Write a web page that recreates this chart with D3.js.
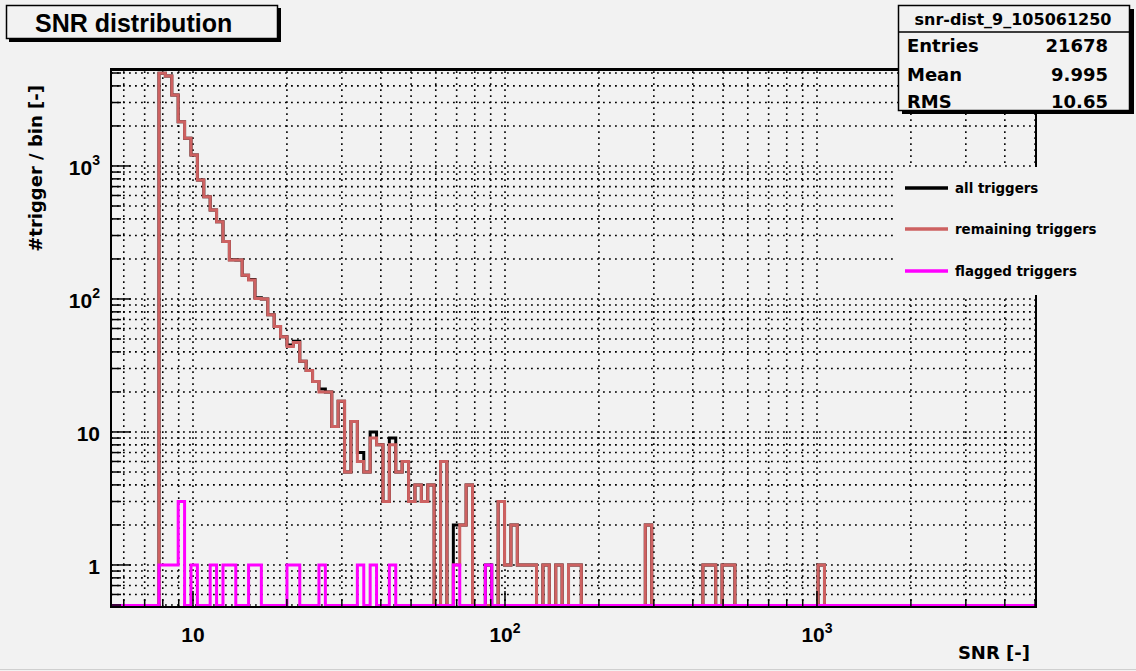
<!DOCTYPE html>
<html><head><meta charset="utf-8">
<script src="https://cdn.jsdelivr.net/npm/d3@7"></script>
<style>body{margin:0;background:#f2f2f2;} svg{display:block;}</style>
</head><body><svg id="c" width="1136" height="671"></svg>
<script>
// ---- data ----
const xDomain = [5.46, 5035];
const yDomain = [0.483, 5360];
const binLogStart = 0.891, binLogStep = 0.02051;
const remaining = [4980,4750,3420,2150,1615,1210,785,588,466,381,270,196,196,151,139,101,100,76,62,52,44,47,34,29,24,20,20,11,17,5,12,6,5,9,8,3,8,5,6,3,4,3,4,0,6,0,1,2,4,0,0,0,0,3,1,2,1,1,1,0,1,0,1,0,1,1,0,0,0,0,0,0,0,0,0,0,2,0,0,0,0,0,0,0,0,1,1,0,1,1,0,0,0,0,0,0,0,0,0,0,0,0,0,1];
const flagged =   [1,1,1,3,0,1,0,0,1,0,1,1,0,0,1,1,0,0,0,0,1,1,0,0,0,1,0,0,0,0,0,1,0,1,0,0,1,0,0,0,0,0,0,0,0,0,1,0,0,0,0,1,0,0,0,0,0,0,0,0,0,0,0,0,0,0,0,0,0,0,0,0,0,0,0,0,0,0,0,0,0,0,0,0,0,0,0,0,0,0,0,0,0,0,0,0,0,0,0,0,0,0,0,0];
const allTriggers=[4981,4751,3421,2153,1615,1211,785,588,467,381,271,197,196,151,140,102,100,76,62,52,45,48,34,29,24,21,20,11,17,5,12,7,5,10,8,3,9,5,6,3,4,3,4,0,6,0,2,2,4,0,0,1,0,3,1,2,1,1,1,0,1,0,1,0,1,1,0,0,0,0,0,0,0,0,0,0,2,0,0,0,0,0,0,0,0,1,1,0,1,1,0,0,0,0,0,0,0,0,0,0,0,0,0,1];
const legendLabels = ["all triggers","remaining triggers","flagged triggers"];
const seriesColors = ["#000000","#cd6161","#ff00ff"];
const statsTitle = "snr-dist_9_105061250";
const statsNames = ["Entries","Mean","RMS"];
const statsValues = ["21678","9.995","10.65"];
const xTickValues = [10,100,1000];
const xTickExp = ["", "2", "3"];
const yTickValues = [1,10,100,1000];
const yTickBase = ["1","10","10","10"];
const yTickExp = ["", "", "2", "3"];
const titleText = "SNR distribution";
const xTitle = "SNR [-]";
const yTitle = "#trigger / bin [-]";

// ---- layout ----
const svg = d3.select("#c");
const L=111, R=1036, T=69, B=607;
const x = d3.scaleLog().domain(xDomain).range([L,R]);
const y = d3.scaleLog().domain(yDomain).range([B,T]);
const BOLD = "'DejaVu Sans', sans-serif";
const ARIAL = "'Liberation Sans', Arial, sans-serif";

svg.append("rect").attr("width",1136).attr("height",671).attr("fill","#f2f2f2");
svg.append("line").attr("x1",0).attr("x2",1136).attr("y1",669.5).attr("y2",669.5).attr("stroke","#cfcfcf");

// minor tick values
const xMinor=[], yMinor=[];
for (let d=0.1; d<=10000; d*=10) for (let m=1;m<=9;m++){const v=+(d*m).toPrecision(3); if(v>=xDomain[0]&&v<=xDomain[1]) xMinor.push(v); if(v>=yDomain[0]&&v<=yDomain[1]) yMinor.push(v);}

// grid
const grid = svg.append("g").attr("stroke","#000").attr("stroke-width",1.6).attr("stroke-dasharray","1.8,4.2");
xMinor.forEach(v=>grid.append("line").attr("x1",x(v)).attr("x2",x(v)).attr("y1",B).attr("y2",T));
yMinor.forEach(v=>grid.append("line").attr("y1",y(v)).attr("y2",y(v)).attr("x1",L).attr("x2",R));

// histograms
svg.append("clipPath").attr("id","fr").append("rect").attr("x",L).attr("y",T+1).attr("width",R-L).attr("height",B-T);
const edge = k => Math.pow(10, binLogStart + k*binLogStep);
const yZero = B-1.5;
function histPoints(vals){
  const pts=[[x(xDomain[0]),yZero],[x(edge(0)),yZero]];
  vals.forEach((v,k)=>{const yy = v>0? Math.max(y(v),T+2):yZero; pts.push([x(edge(k)),yy],[x(edge(k+1)),yy]);});
  pts.push([x(edge(vals.length)),yZero],[x(xDomain[1]),yZero]);
  return pts;
}
const line = d3.line();
const hg = svg.append("g").attr("clip-path","url(#fr)").attr("fill","none").attr("stroke-width",3).attr("stroke-linejoin","miter");
[allTriggers, remaining, flagged].forEach((s,i)=>hg.append("path").attr("d",line(histPoints(s))).attr("stroke",seriesColors[i]));

// frame
svg.append("rect").attr("x",L).attr("y",T).attr("width",R-L).attr("height",B-T).attr("fill","none").attr("stroke","#000").attr("stroke-width",2);
svg.append("line").attr("x1",L).attr("x2",R).attr("y1",T+0.5).attr("y2",T+0.5).attr("stroke","#000").attr("stroke-width",3);

// ticks
const tk = svg.append("g").attr("stroke","#000").attr("stroke-width",1.5);
xMinor.forEach(v=>{const maj=xTickValues.includes(v); tk.append("line").attr("x1",x(v)).attr("x2",x(v)).attr("y1",B).attr("y2",B-(maj?16:8));});
yMinor.forEach(v=>{const maj=yTickValues.includes(v); tk.append("line").attr("x1",L).attr("x2",L+(maj?20:10)).attr("y1",y(v)).attr("y2",y(v));});

// tick labels
xTickValues.forEach((v,i)=>{
  const t=svg.append("text").attr("x",x(v)).attr("y",642).attr("text-anchor","middle").attr("font-family",ARIAL).attr("font-weight","bold").attr("font-size",21).attr("fill","#000");
  t.append("tspan").text("10");
  if(xTickExp[i]) t.append("tspan").attr("dy",-9).attr("font-size",14).text(xTickExp[i]);
});
yTickValues.forEach((v,i)=>{
  const t=svg.append("text").attr("x",100).attr("y",y(v)+9).attr("text-anchor","end").attr("font-family",ARIAL).attr("font-weight","bold").attr("font-size",21).attr("fill","#000");
  t.append("tspan").text(yTickBase[i]);
  if(yTickExp[i]) t.append("tspan").attr("dy",-10).attr("font-size",14).text(yTickExp[i]);
});

// axis titles
svg.append("text").attr("x",1030).attr("y",659).attr("text-anchor","end").attr("font-family",BOLD).attr("font-weight","bold").attr("font-size",18).text(xTitle);
svg.append("text").attr("transform","translate(42,85) rotate(-90)").attr("text-anchor","end").attr("font-family",BOLD).attr("font-weight","bold").attr("font-size",18).text(yTitle);

// title box
svg.append("rect").attr("x",9).attr("y",8).attr("width",272).attr("height",34).attr("fill","#000");
svg.append("rect").attr("x",6.5).attr("y",5.5).attr("width",271).attr("height",33).attr("fill","#f2f2f2").attr("stroke","#000").attr("stroke-width",1.5);
svg.append("text").attr("x",35).attr("y",32).attr("font-family",ARIAL).attr("font-weight","bold").attr("font-size",25).text(titleText);

// stats box
svg.append("rect").attr("x",902).attr("y",9).attr("width",232).attr("height",105).attr("fill","#000");
svg.append("rect").attr("x",898.5).attr("y",5.5).attr("width",231).attr("height",105).attr("fill","#f2f2f2").attr("stroke","#000").attr("stroke-width",1.5);
svg.append("line").attr("x1",898.5).attr("x2",1129.5).attr("y1",32).attr("y2",32).attr("stroke","#000").attr("stroke-width",1.5);
svg.append("text").attr("x",1013).attr("y",25).attr("text-anchor","middle").attr("font-family",BOLD).attr("font-weight","bold").attr("font-size",16).text(statsTitle);
statsNames.forEach((n,i)=>{
  const yy=[52,81,108][i];
  svg.append("text").attr("x",907).attr("y",yy).attr("font-family",BOLD).attr("font-weight","bold").attr("font-size",18).text(n);
  svg.append("text").attr("x",1108).attr("y",yy).attr("text-anchor","end").attr("font-family",BOLD).attr("font-weight","bold").attr("font-size",18).text(statsValues[i]);
});

// legend
svg.append("rect").attr("x",897).attr("y",167).attr("width",239).attr("height",128).attr("fill","#f2f2f2");
legendLabels.forEach((s,i)=>{
  const yy=[188,229,271][i];
  svg.append("line").attr("x1",905).attr("x2",948).attr("y1",yy).attr("y2",yy).attr("stroke",seriesColors[i]).attr("stroke-width",3.5);
  svg.append("text").attr("x",955).attr("y",yy+5).attr("font-family",BOLD).attr("font-weight","bold").attr("font-size",13.4).text(s);
});
</script></body></html>
